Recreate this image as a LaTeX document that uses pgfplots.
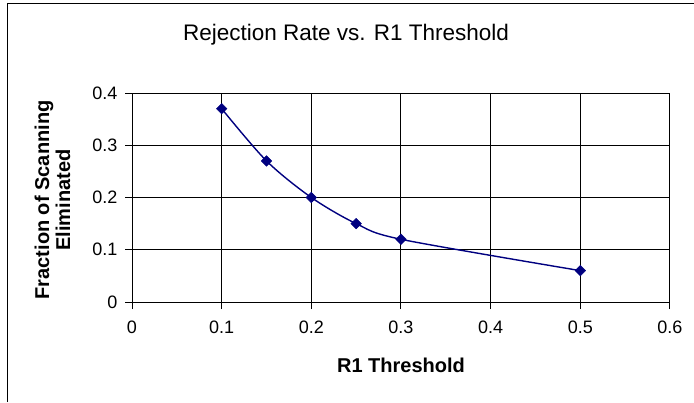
\documentclass[border=0pt]{standalone}
\usepackage{fontspec}
\setmainfont{Liberation Sans}
\usepackage{pgfplots}
\pgfplotsset{compat=1.18}
\definecolor{navyline}{RGB}{0,0,128}
\begin{document}
\begin{tikzpicture}
\path[use as bounding box] (0pt,0pt) rectangle (694pt,402pt);
\fill[white] (0pt,0pt) rectangle (694pt,402pt);
\draw[black, line width=1pt] (7pt,0pt) -- (7pt,398pt) -- (694pt,398pt);
\begin{axis}[
  at={(132pt,100pt)}, anchor=south west,
  scale only axis, width=538pt, height=209pt,
  xmin=0, xmax=0.6, ymin=0, ymax=0.4,
  xtick={0,0.1,0.2,0.3,0.4,0.5,0.6},
  ytick={0,0.1,0.2,0.3,0.4},
  xticklabels={0,0.1,0.2,0.3,0.4,0.5,0.6},
  yticklabels={0,0.1,0.2,0.3,0.4},
  grid=major,
  major grid style={black, line width=1pt},
  axis line style={black, line width=1pt},
  tick style={black, line width=1pt},
  tick align=outside,
  major tick length=7pt,
  xtick pos=bottom, ytick pos=left,
  /pgf/number format/assume math mode=true,
  tick label style={font=\fontsize{18}{20}\selectfont, black},
  xticklabel style={yshift=-8pt},
  yticklabel style={xshift=-4pt},
]
\addplot[navyline, line width=1.4pt, smooth, mark=square*, mark size=3.7pt,
  mark options={rotate=45, fill=navyline, draw=navyline, line width=0.5pt}]
  coordinates {(0.1,0.37) (0.15,0.27) (0.2,0.2) (0.25,0.15) (0.3,0.12) (0.5,0.06)};
\end{axis}
\node[anchor=base, font=\fontsize{22.5}{26}\selectfont] at (346pt,361pt) {Rejection Rate vs. R1 Threshold};
\node[anchor=base, font=\bfseries\fontsize{20}{22}\selectfont] at (401pt,29.3pt) {R1 Threshold};
\node[rotate=90, align=center, anchor=center, font=\bfseries\fontsize{20}{21}\selectfont] at (52.5pt,202pt) {Fraction of Scanning\\Eliminated};
\end{tikzpicture}
\end{document}
